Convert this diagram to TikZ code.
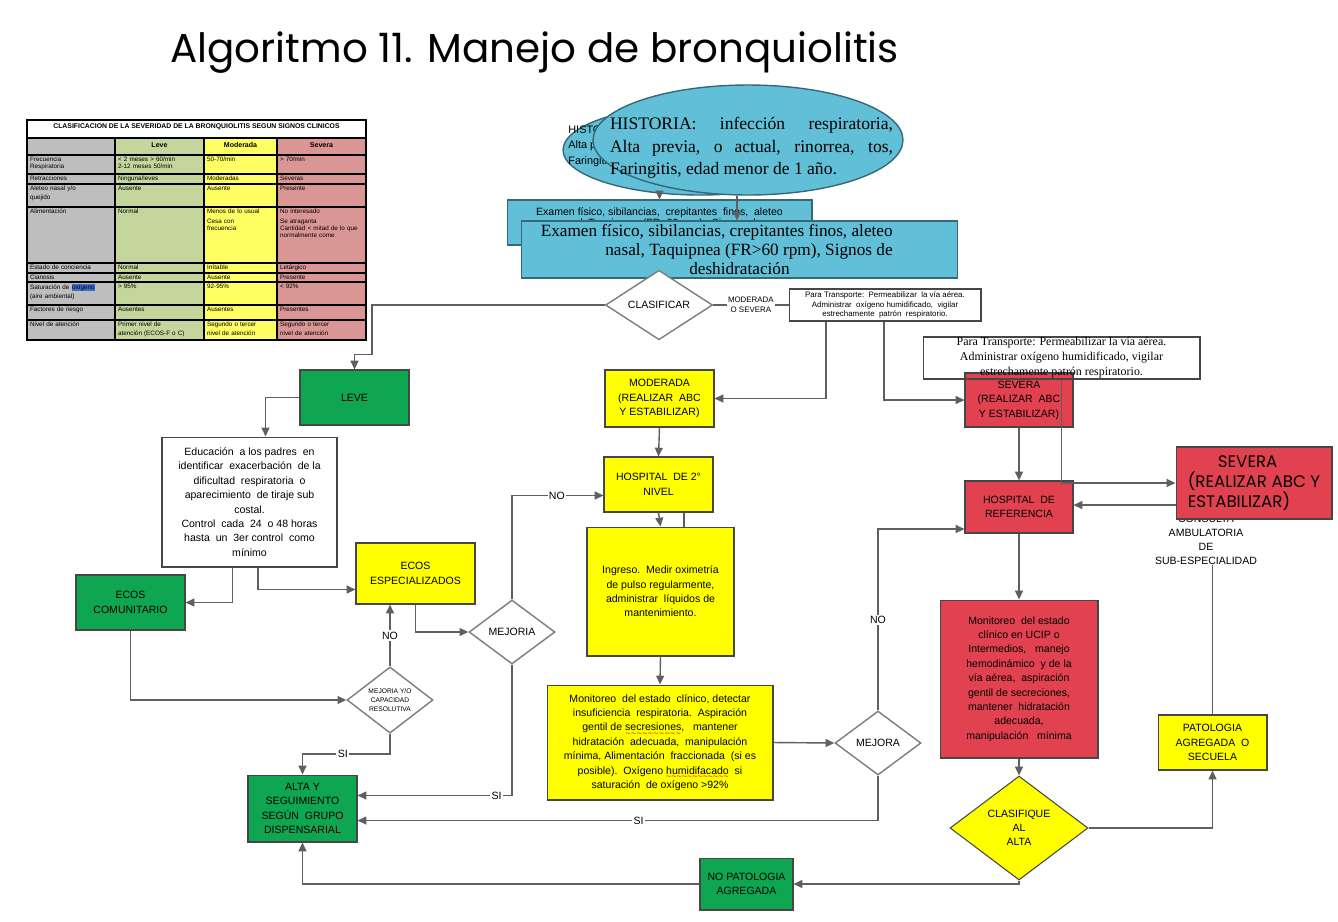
\documentclass[tikz,border=0pt]{standalone}
\usepackage{fontspec}
\setmainfont{Liberation Serif}
\newfontfamily\arial{Liberation Sans}
\newfontfamily\titfont{Poppins}
\usetikzlibrary{arrows.meta, shapes.geometric, calc}

\definecolor{boxgreen}{RGB}{14,166,80}
\definecolor{boxyellow}{RGB}{255,255,0}
\definecolor{boxred}{RGB}{226,66,80}
\definecolor{ellblue}{RGB}{98,191,216}
\definecolor{boxline}{RGB}{70,70,70}
\definecolor{connline}{RGB}{95,95,95}
\definecolor{dialine}{RGB}{125,125,125}
\definecolor{tgray}{RGB}{190,190,190}
\definecolor{tgreen}{RGB}{196,214,155}
\definecolor{tyellow}{RGB}{255,255,100}
\definecolor{tred}{RGB}{218,150,148}
\definecolor{hl}{RGB}{60,110,200}

\newcommand\boxfont{\arial\fontsize{6}{8.2}\selectfont}
\newcommand\tinyfont{\arial\fontsize{4.5}{5.5}\selectfont}
\newcommand\tabfont{\arial\fontsize{3.6}{4.1}\selectfont}
% palabra con subrayado ondulado rojo
\newcommand\spellerr[1]{\setbox0=\hbox{#1}\leavevmode\rlap{\color{red}\raisebox{-3pt}[0pt][0pt]{\hbox to\wd0{\xleaders\hbox{\arial\fontsize{5}{5}\selectfont\char"7E}\hfill}}}\box0}

\tikzset{
  flowbox/.style={draw=boxline, line width=0.6pt, align=center, inner sep=1pt, font=\boxfont},
  greenbox/.style={flowbox, fill=boxgreen},
  yellowbox/.style={flowbox, fill=boxyellow},
  redbox/.style={flowbox, fill=boxred},
  whitebox/.style={flowbox, fill=white},
  bluebox/.style={flowbox, fill=ellblue, draw=ellblue!55!black},
  histell/.style={ellipse, draw=ellblue!55!black, fill=ellblue, line width=0.8pt, inner sep=0pt},
  decision/.style={diamond, draw=dialine, line width=0.8pt, fill=white, align=center, inner sep=0pt, font=\boxfont},
  conn/.style={draw=connline, line width=0.8pt},
  arr/.style={conn, -{Triangle[length=5pt,width=4.5pt]}},
  lbl/.style={fill=white, inner sep=0.8pt, align=center, font=\boxfont},
}

\begin{document}
\begin{tikzpicture}[x=0.02cm, y=-0.02cm]
  \useasboundingbox (0,0) rectangle (1338,921);
  \fill[white] (0,0) rectangle (1338,921);

  \node[anchor=base west, inner sep=0, font=\titfont\fontsize{23}{27}\selectfont] (title) at (170,62) {Algoritmo 11. Manejo de bronquiolitis};

  % historia y examen
  \node[histell, minimum width=5.48cm, minimum height=1.8cm] (hist0) at (700,150) {};
  \node[anchor=west, align=left, inner sep=0, font=\arial\fontsize{6.2}{9}\selectfont] (hist0txt) at (568,146)
    {HISTORIA: infección respiratoria,\\Alta previa, o actual, rinorrea, tos,\\Faringitis, edad menor de 1 año.};
  \node[bluebox, minimum width=6.1cm, minimum height=0.9cm, font=\arial\fontsize{6}{6.4}\selectfont] (exam0) at (659.5,222.5)
    {Examen físico,\ sibilancias,\ \ crepitantes\ \ finos,\ \ aleteo\\nasal,\ Taquipnea\ \ (FR>60 rpm),\ \ Signos\ \ de\\deshidratación};
  \draw[arr] (hist0.south -| exam0.north) -- (exam0.north);
  \node[bluebox, minimum width=8.74cm, minimum height=1.14cm] (exam) at (739.5,249.5) {};
  \node[anchor=east, align=right, inner sep=0, font=\fontsize{9.8}{10.8}\selectfont] (examtxt) at (893,249.5)
    {Examen físico, sibilancias, crepitantes finos, aleteo\\nasal, Taquipnea (FR>60 rpm), Signos de\\deshidratación\rule{2.06cm}{0pt}};
  \node[histell, minimum width=6.2cm, minimum height=2.2cm] (hist) at (748,140) {};
  \node[align=justify, text width=5.66cm, inner sep=0, font=\fontsize{10}{12.8}\selectfont] (histtxt) at (751.5,148)
    {HISTORIA: infección respiratoria,\linebreak Alta previa, o actual, rinorrea, tos,\linebreak Faringitis, edad menor de 1 año.};
  \coordinate (histfoot) at ($(hist.south)+(-11,0)$);
  \draw[arr] (histfoot) -- (histfoot |- exam.north);

  % clasificar
  \node[decision, minimum width=2.14cm, minimum height=1.12cm] (clasificar) at (659,305) {CLASIFICAR};
  \node[whitebox, minimum width=3.84cm, minimum height=0.64cm, inner sep=0, font=\tinyfont] (trans1) at (885,305)
    {Para Transporte:\ \ Permeabilizar\ \ la vía aérea.\\Administrar\ \ oxígeno humidificado,\ \ vigilar\\estrechamente\ \ patrón\ \ respiratorio.};
  \draw[conn] (clasificar.east) -- node[lbl, font=\tinyfont] {MODERADA\\O SEVERA} (trans1.west);

  % rama leve
  \node[greenbox, minimum width=2.18cm, minimum height=1.1cm] (leve) at (354.5,397.5) {LEVE};
  \draw[arr] (clasificar.west) -| ($(leve.north)+(17.5,-15)$) -| (leve.north);
  \node[whitebox, minimum width=3.5cm, minimum height=2.6cm] (edu) at (249.5,502)
    {Educación\ \ a los padres\ \ en\\identificar\ \ exacerbación\ \ de la\\dificultad\ \ respiratoria\ \ o\\aparecimiento\ \ de tiraje sub\\costal.\\Control\ \ cada\ \ 24\ \ o 48 horas\\hasta\ \ un\ \ 3er control\ \ como\\mínimo};
  \draw[arr] (leve.west) -| ($(edu.north)+(16,0)$);
  \node[greenbox, minimum width=2.18cm, minimum height=1.1cm] (ecoscom) at (130.5,602.5) {ECOS\\COMUNITARIO};
  \node[yellowbox, minimum width=2.38cm, minimum height=1.22cm] (ecosesp) at (415.5,573.5) {ECOS\\ESPECIALIZADOS};
  \draw[arr] ($(edu.south)+(-17,0)$) |- (ecoscom.east);
  \draw[arr] ($(edu.south)+(8.5,0)$) |- ($(ecosesp.west)+(0,16)$);
  \node[decision, minimum width=1.72cm, minimum height=1.28cm] (mejoria) at (512,632) {MEJORIA};
  \node[decision, minimum width=1.72cm, minimum height=1.28cm, font=\arial\fontsize{3.8}{5.2}\selectfont] (mycr) at (390,700) {MEJORIA Y/O\\CAPACIDAD\\RESOLUTIVA};
  \draw[arr] (ecosesp.south) |- (mejoria.west);
  \draw[arr] (ecoscom.south) |- (mycr.west);
  \draw[arr] (mycr.north) -- node[lbl] {NO} (mycr.north |- ecosesp.south);
  \node[greenbox, minimum width=2.18cm, minimum height=1.34cm] (alta) at (302.5,808.5) {ALTA Y\\SEGUIMIENTO\\SEGÚN\ \ GRUPO\\DISPENSARIAL};
  \draw[arr] (mycr.south) -- ++(0,20) -| node[lbl, pos=0.27] {SI} (alta.north);
  \draw[arr] (mejoria.south) |- node[lbl, pos=0.55] {SI} ($(alta.east)+(0,-13)$);

  % rama moderada
  \node[yellowbox, minimum width=2.18cm, minimum height=1.14cm] (moderada) at (659.5,398.5) {MODERADA\\(REALIZAR\ \ ABC\\Y ESTABILIZAR)};
  \node[yellowbox, minimum width=2.18cm, minimum height=1.1cm] (hosp2) at (658.5,484.5) {HOSPITAL\ \ DE 2°\\NIVEL};
  \node[yellowbox, minimum width=2.94cm, minimum height=2.58cm] (ingreso) at (660.5,591.5)
    {Ingreso.\ \ Medir oximetría\\de pulso regularmente,\\administrar\ \ líquidos de\\mantenimiento.};
  \node[yellowbox, minimum width=4.52cm, minimum height=2.3cm] (monit) at (660,742.5)
    {Monitoreo\ \ del estado\ \ clínico, detectar\\insuficiencia\ \ respiratoria.\ \ Aspiración\\gentil de \spellerr{secresiones},\ \ \ mantener\\hidratación\ \ adecuada,\ \ manipulación\\mínima, Alimentación\ \ fraccionada\ \ (si es\\posible).\ \ Oxígeno \spellerr{humidifacado}\ \ si\\saturación\ \ de oxígeno >92\%};
  \node[decision, minimum width=1.72cm, minimum height=1.28cm] (mejora) at (878,743) {MEJORA};
  \draw[arr] ($(trans1.south)+(-59,0)$) |- (moderada.east);
  \draw[arr] (moderada.south) -- (hosp2.north);
  \draw[arr] (hosp2.south) -- (ingreso.north);
  \draw[conn] ($(hosp2.south)+(25.5,0)$) -- ($(ingreso.north)+(23.5,0)$);
  \draw[arr] (ingreso.south) -- (monit.north);
  \draw[arr] (monit.east) -- (mejora.west);
  \draw[arr] (mejoria.north) |- node[lbl, pos=0.745] {NO} ($(hosp2.west)+(0,11)$);
  \draw[arr] (mejora.south) |- node[lbl, pos=0.73] {SI} ($(alta.east)+(0,12)$);

  % rama severa
  \node[redbox, minimum width=2.16cm, minimum height=1.08cm] (severa) at (1019,400) {SEVERA\\(REALIZAR\ \ ABC\\Y ESTABILIZAR)};
  \node[flowbox, minimum width=5.54cm, minimum height=0.84cm, inner sep=0, font=\fontsize{6.8}{8.5}\selectfont] (trans2) at (1061.5,358)
    {Para Transporte: Permeabilizar la vía aérea.\\Administrar oxígeno humidificado, vigilar\\estrechamente patrón respiratorio.};
  \draw[arr] ($(trans1.south)+(-1,0)$) |- (severa.west);
  \node[redbox, minimum width=2.16cm, minimum height=1.04cm] (hospref) at (1019,507) {HOSPITAL\ \ DE\\REFERENCIA};
  \node[align=center, inner sep=0, font=\arial\fontsize{6}{8}\selectfont] (consulta) at (1206,540) {CONSULTA\\AMBULATORIA\\DE\\SUB-ESPECIALIDAD};
  \node[redbox, minimum width=3.12cm, minimum height=1.44cm, align=left, font=\titfont\fontsize{9.5}{11.4}\selectfont] (severabig) at (1254,483)
    {\hspace*{0.6cm}SEVERA\\(REALIZAR ABC Y\\ESTABILIZAR)};
  \draw[arr] (trans2.south) |- (severabig.west);
  \draw[arr] ($(severabig.west)+(0,22)$) -- ($(hospref.east)+(0,-2)$);
  \draw[arr] (severa.south) -- (hospref.north);
  \draw[arr] (mejora.north) |- node[lbl, pos=0.25] {NO} ($(hospref.west)+(0,22)$);
  \node[redbox, minimum width=3.16cm, minimum height=3.16cm] (ucip) at (1019,679)
    {Monitoreo\ \ del estado\\clínico en UCIP o\\Intermedios,\ \ \ manejo\\hemodinámico\ \ y de la\\vía aérea,\ \ aspiración\\gentil de secreciones,\\mantener\ \ hidratación\\adecuada,\\manipulación\ \ \ mínima};
  \node[diamond, draw=boxline, line width=0.6pt, fill=boxyellow, align=center, inner sep=0, font=\arial\fontsize{6}{8}\selectfont,
        minimum width=2.76cm, minimum height=2.08cm] (clasifique) at (1019,828) {CLASIFIQUE\\AL\\ALTA};
  \node[yellowbox, minimum width=2.18cm, minimum height=1.1cm] (patol) at (1212.5,742.5) {PATOLOGIA\\AGREGADA\ \ O\\SECUELA};
  \node[greenbox, minimum width=1.86cm, minimum height=1.04cm] (nopat) at (746.5,884) {NO PATOLOGIA\\AGREGADA};
  \draw[arr] (hospref.south) -- (ucip.north);
  \draw[arr] (ucip.south) -- (clasifique.north);
  \draw[arr] (clasifique.east) -| (patol.south);
  \draw[conn] (patol.north |- consulta.south) -- (patol.north);
  \draw[arr] (clasifique.south) |- (nopat.east);
  \draw[arr] (nopat.west) -| (alta.south);

  % tabla de severidad
  \fill[white] (27,120) rectangle (366,138);
  \foreach \xa/\xb/\c in {27/115/tgray, 115/204/tgreen, 204/277/tyellow, 277/366/tred}
    \fill[\c] (\xa,138) rectangle (\xb,340);
  \foreach \y in {138,155,174,184,207,263,273,282,305,320}
    \draw[line width=0.7pt] (27,\y) -- (366,\y);
  \foreach \x in {115,204,277}
    \draw[line width=0.7pt] (\x,138) -- (\x,340);
  \draw[line width=0.8pt] (27,120) rectangle (366,340);
  \node[font=\arial\bfseries\fontsize{3.9}{4}\selectfont, inner sep=0] (tabtitle) at (196.5,127) {CLASIFICACION DE LA SEVERIDAD DE LA BRONQUIOLITIS SEGUN SIGNOS CLINICOS};
  \foreach \x/\t in {159.5/Leve, 240.5/Moderada, 321.5/Severa}
    \node[font=\arial\bfseries\fontsize{4}{4}\selectfont] at (\x,145) {\t};
  \foreach \ya/\ta/\tb/\tc/\td in {
      155/{Frecuencia\\Respiratoria}/{< 2 meses > 60/min\\2-12 meses 50/min}/{50-70/min}/{> 70/min},
      174/{Retracciones}/{Ninguna/leves}/{Moderadas}/{Severas},
      184/{Aleteo nasal y/o\\[1pt]quejido}/{Ausente}/{Ausente}/{Presente},
      207/{Alimentación}/{Normal}/{Menos de lo usual\\[1.5pt]Cesa con\\frecuencia}/{No interesado\\[1.5pt]Se atraganta\\Cantidad < mitad de lo que normalmente come},
      263/{Estado de conciencia}/{Normal}/{Irritable}/{Letárgico},
      273/{Cianosis}/{Ausente}/{Ausente}/{Presente},
      282/{Saturación de {\setlength\fboxsep{0.3pt}\colorbox{hl}{oxígeno}}\\[1pt](aire ambiental)}/{> 95\%}/{92-95\%}/{< 92\%},
      305/{Factores de riesgo}/{Ausentes}/{Ausentes}/{Presentes},
      320/{Nivel de atención}/{Primer nivel de\\[1pt]atención (ECOS-F o C)}/{Segundo o tercer\\[1pt]nivel de atención}/{Segundo o tercer\\[1pt]nivel de atención}} {
    \node[anchor=north west, inner sep=1pt, align=left, text width=1.66cm, font=\tabfont] at (28,\ya) {\ta};
    \node[anchor=north west, inner sep=1pt, align=left, text width=1.68cm, font=\tabfont] at (116,\ya) {\tb};
    \node[anchor=north west, inner sep=1pt, align=left, text width=1.36cm, font=\tabfont] at (205,\ya) {\tc};
    \node[anchor=north west, inner sep=1pt, align=left, text width=1.68cm, font=\tabfont] at (278,\ya) {\td};
  }
\end{tikzpicture}
\end{document}
